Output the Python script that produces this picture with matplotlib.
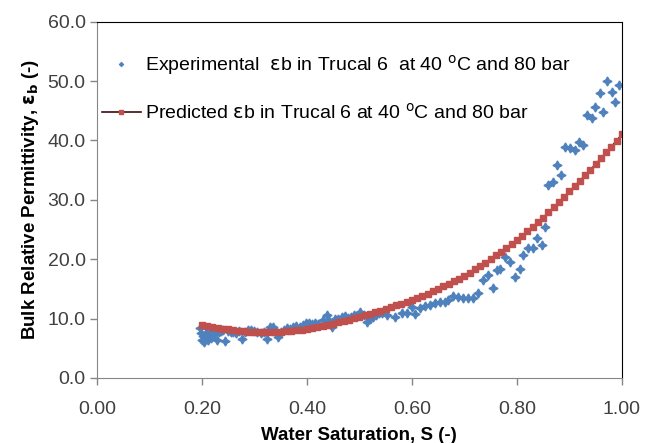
import matplotlib
matplotlib.use('agg')
import numpy as np
import matplotlib.pyplot as plt
from matplotlib.ticker import FormatStrFormatter

plt.rcParams['font.family'] = ['Liberation Sans', 'DejaVu Sans']

# measured bulk permittivity vs water saturation
s_exp = [0.196, 0.199, 0.201, 0.203, 0.205, 0.207, 0.209, 0.211, 0.213, 0.215,
         0.218, 0.220, 0.223, 0.226, 0.229, 0.232, 0.236, 0.240, 0.244, 0.250,
         0.255, 0.260, 0.265, 0.270, 0.276, 0.282, 0.288, 0.294, 0.300, 0.306,
         0.312, 0.318, 0.324, 0.330, 0.336, 0.342, 0.345, 0.350, 0.356, 0.362,
         0.368, 0.374, 0.380, 0.386, 0.392, 0.398, 0.404, 0.410, 0.416, 0.422,
         0.430, 0.438, 0.443, 0.448, 0.454, 0.460, 0.466, 0.472, 0.478, 0.484,
         0.490, 0.496, 0.501, 0.508, 0.514, 0.520, 0.526, 0.532, 0.538, 0.544,
         0.552, 0.568, 0.581, 0.590, 0.600, 0.606, 0.615, 0.625, 0.634, 0.644,
         0.653, 0.663, 0.669, 0.678, 0.688, 0.697, 0.707, 0.716, 0.726, 0.735,
         0.745, 0.754, 0.762, 0.768, 0.777, 0.787, 0.796, 0.806, 0.811, 0.821,
         0.830, 0.838, 0.848, 0.853, 0.859, 0.869, 0.876, 0.884, 0.891, 0.901,
         0.910, 0.918, 0.926, 0.933, 0.943, 0.949, 0.958, 0.964, 0.971, 0.981,
         0.987, 0.994]
eb_exp = [8.4, 7.6, 6.4, 7.0, 6.1, 7.5, 6.6, 6.3, 7.2, 7.8,
          6.7, 7.7, 7.4, 7.9, 6.4, 7.7, 7.9, 8.0, 6.2, 7.9,
          7.7, 7.8, 7.6, 7.9, 6.5, 7.8, 8.0, 8.0, 7.9, 7.8,
          7.6, 7.7, 6.5, 8.6, 8.6, 7.9, 6.9, 7.7, 8.1, 8.4,
          8.2, 8.6, 8.8, 8.5, 8.9, 9.2, 9.2, 9.1, 9.3, 9.0,
          9.8, 10.6, 9.6, 8.6, 9.9, 10.0, 10.2, 10.4, 10.1, 10.3,
          10.6, 10.4, 11.1, 10.6, 9.4, 9.9, 10.3, 10.6, 10.9, 11.0,
          10.6, 10.3, 10.9, 10.9, 12.0, 10.8, 11.8, 12.1, 12.3, 12.6,
          12.8, 12.8, 13.1, 13.8, 13.6, 13.5, 13.5, 13.5, 14.3, 16.5,
          17.3, 15.2, 18.2, 18.3, 20.4, 19.5, 17.0, 18.3, 20.7, 21.9,
          21.9, 23.6, 22.4, 25.4, 32.5, 33.0, 35.9, 34.2, 38.9, 38.7,
          38.4, 39.7, 39.2, 44.3, 43.8, 45.6, 48.0, 44.8, 50.0, 48.1,
          46.5, 49.3]

# model prediction on a 0.01 saturation grid
s_pred = np.round(np.arange(0.20, 1.0001, 0.01), 2)
eb_pred = [8.90, 8.72, 8.56, 8.41, 8.27, 8.15, 8.04, 7.94, 7.85, 7.77,
           7.71, 7.67, 7.65, 7.66, 7.70, 7.76, 7.84, 7.93, 8.03, 8.13,
           8.25, 8.40, 8.57, 8.75, 8.93, 9.12, 9.34, 9.57, 9.81, 10.05,
           10.30, 10.55, 10.81, 11.07, 11.34, 11.62, 11.91, 12.20, 12.50, 12.80,
           13.10, 13.45, 13.82, 14.20, 14.60, 15.00, 15.42, 15.85, 16.29, 16.74,
           17.20, 17.74, 18.29, 18.85, 19.42, 20.00, 20.62, 21.25, 21.89, 22.54,
           23.20, 23.95, 24.70, 25.46, 26.23, 27.00, 27.86, 28.73, 29.61, 30.50,
           31.40, 32.30, 33.22, 34.14, 35.07, 36.00, 36.98, 37.97, 38.97, 39.98,
           41.00]

fig = plt.figure(figsize=(6.54, 4.43), dpi=100)
ax = fig.add_axes([0.148, 0.147, 0.803, 0.804])

ax.plot(s_exp, eb_exp, linestyle='none', marker=(4, 1, 0), markersize=6.5,
        color='#4F81BD',
        label=r'Experimental  $\mathrm{\varepsilon}$b in Trucal 6  at 40 $^{\mathrm{o}}$C and 80 bar')
ax.plot(s_pred, eb_pred, color='#3b0d0d', linewidth=1.2, marker='s', markersize=5,
        markerfacecolor='#C0504D', markeredgecolor='#C0504D',
        label=r'Predicted $\mathrm{\varepsilon}$b in Trucal 6 at 40 $^{\mathrm{o}}$C and 80 bar')

ax.set_xlim(0, 1.0)
ax.set_ylim(0, 60)
ax.set_xticks([0, 0.2, 0.4, 0.6, 0.8, 1.0])
ax.set_yticks([0, 10, 20, 30, 40, 50, 60])
ax.xaxis.set_major_formatter(FormatStrFormatter('%.2f'))
ax.yaxis.set_major_formatter(FormatStrFormatter('%.1f'))
ax.tick_params(labelsize=14, colors='#404040', color='#868686', length=5, width=1, pad=3)
ax.tick_params(axis='x', pad=12)

for side in ['left', 'bottom']:
    ax.spines[side].set_color('#868686')
for side in ['top', 'right']:
    ax.spines[side].set_color('#000000')

ax.set_xlabel('Water Saturation, S (-)', fontsize=13.5, fontweight='bold', labelpad=6)
ax.set_ylabel(r'Bulk Relative Permittivity, $\mathbf{\varepsilon_b}$ (-)', fontsize=13.5,
              fontweight='bold', labelpad=5)

ax.legend(loc='upper left', bbox_to_anchor=(-0.005, 0.935), frameon=False, fontsize=14,
          labelspacing=1.35, handlelength=2.0, handletextpad=0.2, markerscale=0.5,
          borderaxespad=0.0)

plt.savefig('out.png', dpi=100)
